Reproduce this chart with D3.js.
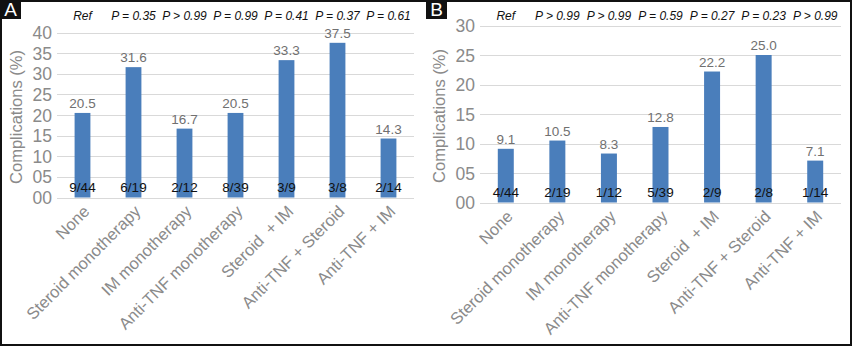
<!DOCTYPE html>
<html>
<head>
<meta charset="utf-8">
<script src="https://cdnjs.cloudflare.com/ajax/libs/d3/7.8.5/d3.min.js"></script>
<style>
  body { margin: 0; background: #fff; }
  svg { display: block; font-family: "Liberation Sans", Arial, sans-serif; }
</style>
</head>
<body>
<svg id="chart"></svg>
<script>
var categories = ["None", "Steroid monotherapy", "IM monotherapy", "Anti-TNF monotherapy",
  "Steroid  + IM", "Anti-TNF + Steroid", "Anti-TNF + IM"];

var valuesA = [20.5, 31.6, 16.7, 20.5, 33.3, 37.5, 14.3];
var countsA = ["9/44", "6/19", "2/12", "8/39", "3/9", "3/8", "2/14"];
var pvalsA = ["Ref", "P = 0.35", "P > 0.99", "P = 0.99", "P = 0.41", "P = 0.37", "P = 0.61"];
var ticksA = [0, 5, 10, 15, 20, 25, 30, 35, 40];

var valuesB = [9.1, 10.5, 8.3, 12.8, 22.2, 25.0, 7.1];
var countsB = ["4/44", "2/19", "1/12", "5/39", "2/9", "2/8", "1/14"];
var pvalsB = ["Ref", "P > 0.99", "P > 0.99", "P = 0.59", "P = 0.27", "P = 0.23", "P > 0.99"];
var ticksB = [0, 5, 10, 15, 20, 25, 30];

var width = 852, height = 346;

var svg = d3.select("#chart")
  .attr("width", width)
  .attr("height", height);

svg.append("rect")
  .attr("x", 0).attr("y", 0)
  .attr("width", width).attr("height", height)
  .style("fill", "#fff");

function drawPanel(opts) {
  var g = svg.append("g");

  var x = d3.scaleBand()
    .domain(categories)
    .range([opts.x0, opts.x1])
    .paddingInner(0.69)
    .paddingOuter(0.345);

  var y = d3.scaleLinear()
    .domain([0, d3.max(opts.ticks)])
    .range([opts.yBottom, opts.yTop]);

  // gridlines
  g.selectAll("line.grid")
    .data(opts.ticks)
    .enter().append("line")
      .attr("class", "grid")
      .attr("x1", opts.x0)
      .attr("x2", opts.x1)
      .attr("y1", function (d) { return Math.round(y(d)) + 0.5; })
      .attr("y2", function (d) { return Math.round(y(d)) + 0.5; })
      .style("stroke", "#d9d9d9")
      .style("stroke-width", 1);

  // tick labels
  g.selectAll("text.tick")
    .data(opts.ticks)
    .enter().append("text")
      .attr("class", "tick")
      .attr("x", opts.x0 - 5)
      .attr("y", function (d) { return y(d) + 6.5; })
      .attr("text-anchor", "end")
      .style("font-size", "17.5px")
      .style("fill", "#8a8a8a")
      .text(function (d) { return d3.format("02d")(d); });

  // y title
  g.append("text")
    .attr("transform", "translate(" + (opts.x0 - 35) + "," + ((opts.yTop + opts.yBottom) / 2 + 2) + ") rotate(-90)")
    .attr("text-anchor", "middle")
    .style("font-size", "16.5px")
    .style("fill", "#8a8a8a")
    .text("Complications (%)");

  // bars
  g.selectAll("rect.bar")
    .data(opts.values)
    .enter().append("rect")
      .attr("class", "bar")
      .attr("x", function (d, i) { return x(categories[i]); })
      .attr("width", x.bandwidth())
      .attr("y", function (d) { return y(d); })
      .attr("height", function (d) { return y(0) - y(d); })
      .style("fill", "#4a7ebb");

  // value labels
  g.selectAll("text.val")
    .data(opts.values)
    .enter().append("text")
      .attr("class", "val")
      .attr("x", function (d, i) { return x(categories[i]) + x.bandwidth() / 2; })
      .attr("y", function (d) { return y(d) - 5; })
      .attr("text-anchor", "middle")
      .style("font-size", "13.5px")
      .style("fill", "#707070")
      .text(function (d) { return d.toFixed(1); });

  // count labels
  g.selectAll("text.count")
    .data(opts.counts)
    .enter().append("text")
      .attr("class", "count")
      .attr("x", function (d, i) { return x(categories[i]) + x.bandwidth() / 2; })
      .attr("y", y(0) - 6)
      .attr("text-anchor", "middle")
      .style("font-size", "13.5px")
      .style("fill", "#111")
      .text(function (d) { return d; });

  // p values
  g.selectAll("text.pval")
    .data(opts.pvals)
    .enter().append("text")
      .attr("class", "pval")
      .attr("x", function (d, i) { return x(categories[i]) + x.bandwidth() / 2; })
      .attr("y", 20)
      .attr("text-anchor", "middle")
      .style("font-size", "12px")
      .style("font-style", "italic")
      .style("fill", "#111")
      .text(function (d) { return d; });

  // category labels
  g.selectAll("text.cat")
    .data(categories)
    .enter().append("text")
      .attr("class", "cat")
      .attr("transform", function (d) {
        return "translate(" + (x(d) + x.bandwidth() / 2 + 8) + "," + (y(0) + 15) + ") rotate(-45)";
      })
      .attr("text-anchor", "end")
      .style("font-size", "16.5px")
      .style("fill", "#8a8a8a")
      .style("white-space", "pre")
      .text(function (d) { return d; });

  // panel letter
  g.append("rect")
    .attr("x", opts.letterX)
    .attr("y", 0)
    .attr("width", 21)
    .attr("height", 19)
    .style("fill", "#111");

  g.append("text")
    .attr("x", opts.letterX + 10.5)
    .attr("y", 16)
    .attr("text-anchor", "middle")
    .style("font-size", "19px")
    .style("fill", "#fff")
    .text(opts.letter);
}

drawPanel({
  letter: "A", letterX: 0,
  x0: 57, x1: 414, yTop: 32.5, yBottom: 197.5,
  ticks: ticksA, values: valuesA, counts: countsA, pvals: pvalsA
});

drawPanel({
  letter: "B", letterX: 426,
  x0: 480, x1: 841, yTop: 25.5, yBottom: 202.5,
  ticks: ticksB, values: valuesB, counts: countsB, pvals: pvalsB
});

// outer frame
svg.append("rect")
  .attr("x", 1).attr("y", 1)
  .attr("width", width - 2).attr("height", height - 2)
  .style("fill", "none")
  .style("stroke", "#111")
  .style("stroke-width", 2);
</script>
</body>
</html>
